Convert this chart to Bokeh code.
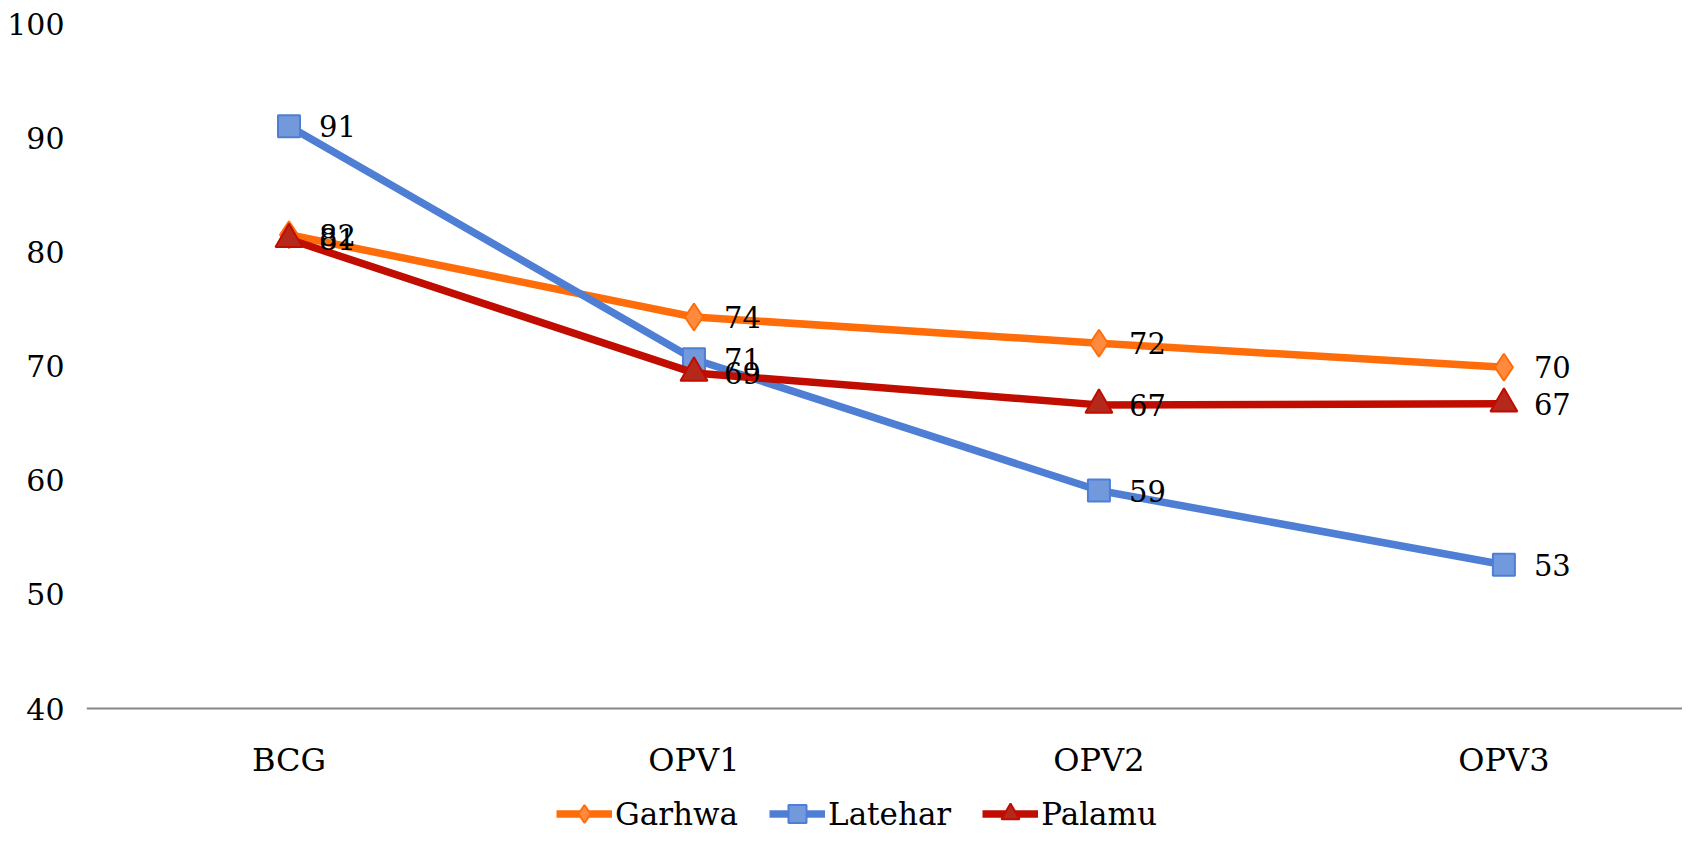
from bokeh.plotting import figure
from bokeh.models import Range1d, FixedTicker, Legend, LegendItem, ColumnDataSource
from bokeh.embed import file_html
from bokeh.resources import INLINE
from bokeh.core.properties import value

# ---- data ----
categories = ["BCG", "OPV1", "OPV2", "OPV3"]
garhwa = [81.5, 74.3, 72.0, 69.9]
latehar = [91.0, 70.6, 59.1, 52.6]
palamu = [81.1, 69.4, 66.6, 66.7]
y_ticks = [40, 50, 60, 70, 80, 90, 100]
series_names = ["Garhwa", "Latehar", "Palamu"]

FONT = "DejaVu Serif"
FS = "29px"

# frame extends below y=40 so the legend can sit inside it; x axis pinned at 40
p = figure(width=1682, height=832, output_backend="svg", toolbar_location=None,
           x_range=Range1d(-0.5, 3.441), y_range=Range1d(29.15, 100),
           min_border_left=86, min_border_right=0, min_border_top=23,
           min_border_bottom=0)
p.outline_line_color = None
p.xgrid.visible = False
p.ygrid.visible = False

xs = list(range(len(categories)))

# x axis
p.xaxis.fixed_location = 40
p.xaxis.ticker = FixedTicker(ticks=xs)
p.xaxis.major_label_overrides = {i: c for i, c in enumerate(categories)}
p.xaxis.major_tick_line_color = None
p.xaxis.minor_tick_line_color = None
p.xaxis.major_tick_out = 0
p.xaxis.minor_tick_out = 0
p.xaxis.axis_line_color = "#878787"
p.xaxis.axis_line_width = 2
p.xaxis.major_label_standoff = 32
p.xaxis.major_label_text_font = FONT
p.xaxis.major_label_text_font_size = "32px"
p.xaxis.major_label_text_color = "#000000"

# y axis
p.yaxis.ticker = FixedTicker(ticks=y_ticks)
p.yaxis.major_tick_line_color = None
p.yaxis.minor_tick_line_color = None
p.yaxis.major_tick_out = 0
p.yaxis.minor_tick_out = 0
p.yaxis.axis_line_color = None
p.yaxis.major_label_standoff = 22
p.yaxis.major_label_text_font = FONT
p.yaxis.major_label_text_font_size = "30px"
p.yaxis.major_label_text_color = "#000000"

styles = [
    dict(vals=garhwa, line="#FF6D0A", fill="#FF8A3D", marker="diamond", size=27),
    dict(vals=latehar, line="#4F7FD4", fill="#7199DC", marker="square", size=22),
    dict(vals=palamu, line="#C00D00", fill="#B5291C", marker="triangle", size=27),
]

items = []
for name, st in zip(series_names, styles):
    src = ColumnDataSource(dict(x=xs, y=st["vals"],
                                lab=["%d" % int(v + 0.5) for v in st["vals"]]))
    ln = p.line("x", "y", source=src, line_color=st["line"], line_width=7.5)
    mk = p.scatter("x", "y", source=src, marker=st["marker"], size=st["size"],
                   fill_color=st["fill"], line_color=st["line"], line_width=2)
    items.append(LegendItem(label=name, renderers=[ln, mk]))
    st["src"] = src

for st in styles:
    p.text("x", "y", text="lab", source=st["src"], x_offset=30,
           text_align="left", text_baseline="middle",
           text_font=value(FONT), text_font_size=FS, text_color="#000000")

legend = Legend(items=items, orientation="horizontal", location=(470, -4),
                glyph_width=56, glyph_height=45, label_standoff=3, spacing=31,
                padding=0, margin=0, border_line_color=None,
                background_fill_alpha=0,
                label_text_font=FONT, label_text_font_size="31px",
                label_text_color="#000000")
p.add_layout(legend, "center")

open("out.html", "w").write(file_html(p, INLINE))
